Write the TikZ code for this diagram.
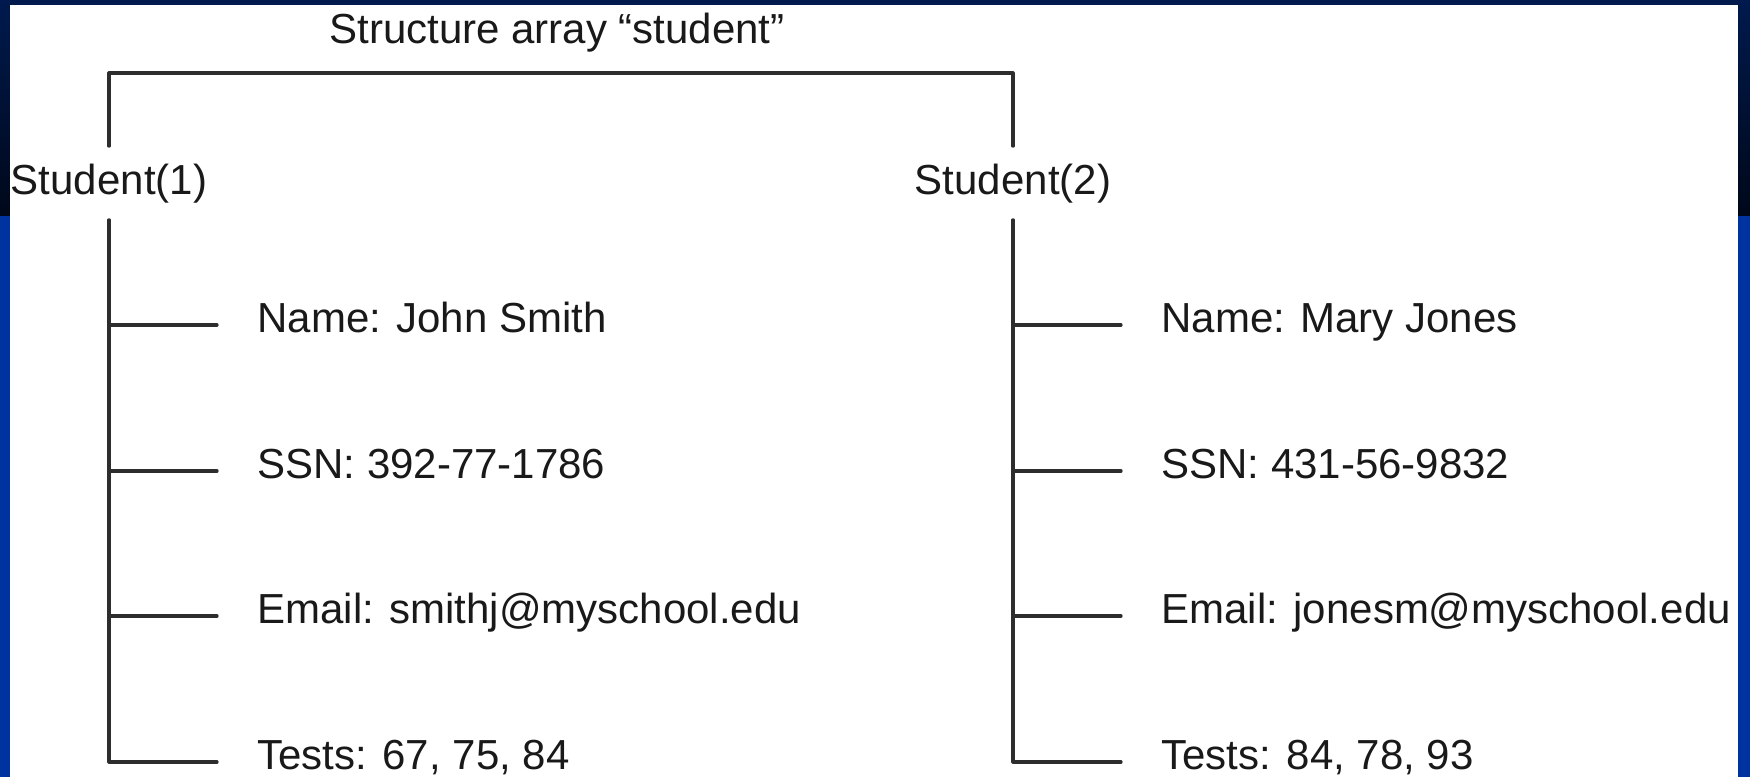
\documentclass[tikz,border=0pt]{standalone}
\usepackage{fontspec}
\setmainfont{Liberation Sans}
\usepackage{tikz}
\definecolor{slideblue}{RGB}{0,51,160}
\definecolor{navytop}{RGB}{0,26,78}
\definecolor{navybot}{RGB}{0,8,26}
\definecolor{inkgray}{RGB}{45,45,45}

\tikzset{
  field/.style={anchor=west,inner sep=0pt,text height=15pt,text depth=8pt,text=black!90},
  elem/.style={inner xsep=0pt,inner ysep=8.25pt,text height=15.5pt,text depth=4.5pt,text=black!90},
  branch/.style={line width=1.6pt,draw=inkgray,shorten >=20pt}
}

\begin{document}
\begin{tikzpicture}[line cap=round,line join=round,x=0.5pt,y=-0.5pt,font=\fontsize{21}{25}\selectfont]
\useasboundingbox (0,0) rectangle (1750,777);
% slide background
\fill[slideblue] (0,0) rectangle (1750,777);
\shade[top color=navytop,bottom color=navybot] (0,0) rectangle (1750,215);
\fill[white] (10,5) rectangle (1738,777);

% structure array
\node[elem] (title) at (557,32) {Structure array “student”};
\coordinate (bar) at (557,73);
\node[elem] (s1) at (109,183) {Student(1)};
\node[elem] (s2) at (1013,183) {Student(2)};
\draw[line width=1.6pt,draw=inkgray] (s1.north) -- (s1.north |- bar) -- (s2.north |- bar) -- (s2.north);

% fields of student(1)
\node[field] (name1) at (257,325) {Name: John Smith};
\node[field] (ssn1) at (257,471) {SSN: 392-77-1786};
\node[field] (email1) at (257,616) {Email: smithj@myschool.edu};
\node[field] (tests1) at (257,762) {Tests: 67, 75, 84};
\draw[branch] (s1.south) |- (tests1.west);
\draw[branch] (s1.south |- name1.west) -- (name1.west);
\draw[branch] (s1.south |- ssn1.west) -- (ssn1.west);
\draw[branch] (s1.south |- email1.west) -- (email1.west);

% fields of student(2)
\node[field] (name2) at (1161,325) {Name: Mary Jones};
\node[field] (ssn2) at (1161,471) {SSN: 431-56-9832};
\node[field] (email2) at (1161,616) {Email: jonesm@myschool.edu};
\node[field] (tests2) at (1161,762) {Tests: 84, 78, 93};
\draw[branch] (s2.south) |- (tests2.west);
\draw[branch] (s2.south |- name2.west) -- (name2.west);
\draw[branch] (s2.south |- ssn2.west) -- (ssn2.west);
\draw[branch] (s2.south |- email2.west) -- (email2.west);
\end{tikzpicture}
\end{document}
